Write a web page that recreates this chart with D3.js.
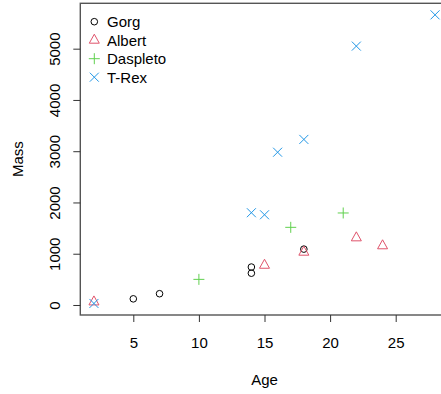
<!DOCTYPE html>
<html>
<head>
<meta charset="utf-8">
<script src="https://cdn.jsdelivr.net/npm/d3@7"></script>
<style>
  html, body { margin: 0; padding: 0; background: #fff; overflow: hidden; }
  text { font-family: "Liberation Sans", Arial, sans-serif; fill: #000; }
</style>
</head>
<body>
<svg id="chart" width="441" height="394"></svg>
<script>
// ---- data ----
const seriesNames = ["Gorg", "Albert", "Daspleto", "T-Rex"];
const gorgAge = [5, 7, 14, 14, 18];
const gorgMass = [120, 220, 740, 620, 1090];
const albertAge = [2, 15, 18, 22, 24];
const albertMass = [60, 775, 1030, 1310, 1155];
const daspletoAge = [10, 17, 21];
const daspletoMass = [500, 1515, 1795];
const trexAge = [2, 14, 15, 16, 18, 22, 28];
const trexMass = [30, 1800, 1760, 2980, 3230, 5050, 5660];
const xTicks = [5, 10, 15, 20, 25];
const yTicks = [0, 1000, 2000, 3000, 4000, 5000];
const seriesColors = ["#000000", "#DF536B", "#61D04F", "#2297E6"];
const seriesShapes = ["circle", "triangle", "plus", "cross"];

const series = [
  { name: seriesNames[0], age: gorgAge, mass: gorgMass },
  { name: seriesNames[1], age: albertAge, mass: albertMass },
  { name: seriesNames[2], age: daspletoAge, mass: daspletoMass },
  { name: seriesNames[3], age: trexAge, mass: trexMass }
];

const svg = d3.select("#chart");
svg.append("rect").attr("width", 441).attr("height", 394).attr("fill", "#fff");

const allAge = series.flatMap(s => s.age);
const allMass = series.flatMap(s => s.mass);
function rPad(ext) { const r = ext[1] - ext[0]; return [ext[0] - 0.04 * r, ext[1] + 0.04 * r]; }

const pL = 80.3, pR = 448.7, pT = 3.3, pB = 315;
const x = d3.scaleLinear().domain(rPad(d3.extent(allAge))).range([pL, pR]);
const y = d3.scaleLinear().domain(rPad(d3.extent(allMass))).range([pB, pT]);

// box
svg.append("rect")
  .attr("x", pL).attr("y", pT)
  .attr("width", pR - pL).attr("height", pB - pT)
  .attr("fill", "none").attr("stroke", "#555").attr("stroke-width", 1.4);

// x axis
const xa = svg.append("g").attr("transform", `translate(0,${pB})`)
  .call(d3.axisBottom(x).tickValues(xTicks).tickSize(7).tickFormat(d3.format("d")));
xa.select(".domain").remove();
xa.selectAll(".tick line").attr("stroke", "#333");
xa.selectAll(".tick text").attr("font-size", 15).attr("y", 22).attr("dy", "0.71em")
  .attr("font-family", "Liberation Sans, Arial, sans-serif").attr("fill", "#000");

// y axis
const ya = svg.append("g").attr("transform", `translate(${pL},0)`)
  .call(d3.axisLeft(y).tickValues(yTicks).tickSize(7).tickFormat(d3.format("d")));
ya.select(".domain").remove();
ya.selectAll(".tick line").attr("stroke", "#333");
ya.selectAll(".tick text")
  .attr("font-size", 15)
  .attr("font-family", "Liberation Sans, Arial, sans-serif")
  .attr("fill", "#000")
  .attr("x", null).attr("dy", null)
  .attr("text-anchor", "middle")
  .attr("transform", "translate(-20,0) rotate(-90)");

// axis titles
svg.append("text").attr("x", (pL + pR) / 2).attr("y", 385)
  .attr("text-anchor", "middle").attr("font-size", 15).text("Age");
svg.append("text").attr("transform", `translate(23,${(pT + pB) / 2}) rotate(-90)`)
  .attr("text-anchor", "middle").attr("font-size", 15).text("Mass");

// symbols
function drawSymbol(g, shape, color) {
  if (shape === "circle") {
    g.append("circle").attr("r", 3.3).attr("fill", "none").attr("stroke", color).attr("stroke-width", 1);
  } else if (shape === "triangle") {
    const h = 9, w = 10;
    g.append("path").attr("d", `M0,${-2 * h / 3}L${w / 2},${h / 3}L${-w / 2},${h / 3}Z`)
      .attr("fill", "none").attr("stroke", color).attr("stroke-width", 1);
  } else if (shape === "plus") {
    const s = 5.5;
    g.append("path").attr("d", `M${-s},0H${s}M0,${-s}V${s}`)
      .attr("stroke", color).attr("stroke-width", 1);
  } else {
    const s = 4.5;
    g.append("path").attr("d", `M${-s},${-s}L${s},${s}M${-s},${s}L${s},${-s}`)
      .attr("stroke", color).attr("stroke-width", 1);
  }
}

series.forEach((s, i) => {
  s.age.forEach((a, j) => {
    const g = svg.append("g").attr("transform", `translate(${x(a)},${y(s.mass[j])})`);
    drawSymbol(g, seriesShapes[i], seriesColors[i]);
  });
});

// legend
const legY = [21.7, 40.2, 58.7, 77.2];
series.forEach((s, i) => {
  const g = svg.append("g").attr("transform", `translate(94.3,${legY[i]})`);
  drawSymbol(g, seriesShapes[i], seriesColors[i]);
  svg.append("text").attr("x", 107).attr("y", legY[i] + 5.5)
    .attr("font-size", 15).text(s.name);
});
</script>
</body>
</html>
